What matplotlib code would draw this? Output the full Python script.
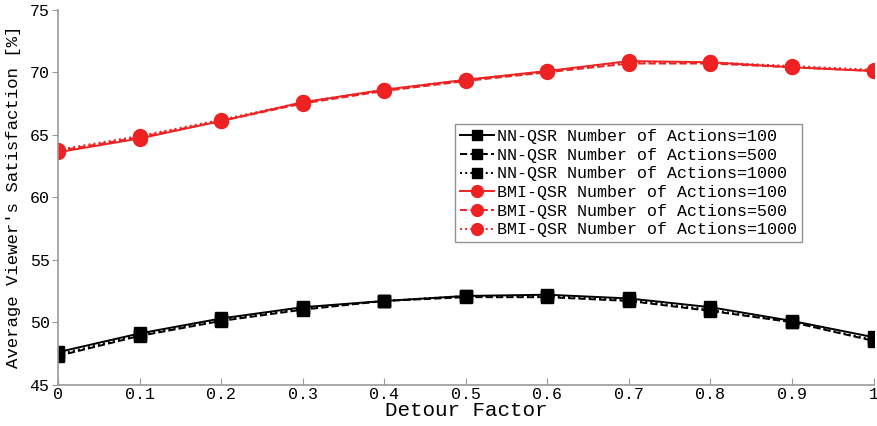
import numpy as np
import matplotlib
matplotlib.use('Agg')
from matplotlib import pyplot as plt

plt.rcParams['font.family'] = ['Liberation Mono', 'DejaVu Sans Mono']

# detour factor
detour = [0, 0.1, 0.2, 0.3, 0.4, 0.5, 0.6, 0.7, 0.8, 0.9, 1.0]

# NN-QSR, number of actions = 100 / 500 / 1000
nn_100 = [47.6, 49.1, 50.3, 51.2, 51.7, 52.1, 52.2, 51.9, 51.2, 50.1, 48.8]
nn_500 = [47.3, 48.9, 50.1, 51.0, 51.7, 52.0, 52.0, 51.7, 50.9, 50.0, 48.5]
nn_1000 = [47.4, 49.0, 50.2, 51.1, 51.7, 52.1, 52.1, 51.8, 51.0, 50.0, 48.6]

# BMI-QSR, number of actions = 100 / 500 / 1000
bmi_100 = [63.6, 64.7, 66.1, 67.6, 68.6, 69.4, 70.1, 70.9, 70.8, 70.4, 70.1]
bmi_500 = [63.7, 64.8, 66.1, 67.5, 68.5, 69.3, 70.0, 70.7, 70.7, 70.4, 70.1]
bmi_1000 = [63.8, 64.9, 66.2, 67.6, 68.6, 69.4, 70.1, 70.8, 70.8, 70.5, 70.2]

labels = ['NN-QSR Number of Actions=100', 'NN-QSR Number of Actions=500',
          'NN-QSR Number of Actions=1000', 'BMI-QSR Number of Actions=100',
          'BMI-QSR Number of Actions=500', 'BMI-QSR Number of Actions=1000']

red = '#ee2222'

fig = plt.figure(figsize=(8.78, 4.26), dpi=100)
ax = fig.add_axes([0.066, 0.097, 0.929, 0.88])

ax.plot(detour, nn_100, '-', color='black', lw=1.4, marker='s', ms=9, label=labels[0])
ax.plot(detour, nn_500, '--', color='black', lw=1.4, marker='s', ms=9, label=labels[1])
ax.plot(detour, nn_1000, ':', color='black', lw=1.4, marker='s', ms=9, label=labels[2])
ax.plot(detour, bmi_100, '-', color=red, lw=1.4, marker='o', ms=10, label=labels[3])
ax.plot(detour, bmi_500, '--', color=red, lw=1.4, marker='o', ms=10, label=labels[4])
ax.plot(detour, bmi_1000, ':', color=red, lw=1.4, marker='o', ms=10, label=labels[5])

ax.set_xlim(0, 1)
ax.set_ylim(45, 75)
ax.set_xticks(detour)
ax.set_xticklabels(['0', '0.1', '0.2', '0.3', '0.4', '0.5', '0.6', '0.7', '0.8', '0.9', '1'])
ax.set_yticks([45, 50, 55, 60, 65, 70, 75])

for s in ['top', 'right']:
    ax.spines[s].set_visible(False)
for s in ['left', 'bottom']:
    ax.spines[s].set_color('#999999')
    ax.spines[s].set_linewidth(1.2)

ax.tick_params(axis='x', direction='in', length=5, color='#999999', labelsize=12, pad=2)
ax.tick_params(axis='y', direction='out', length=4, color='#999999', labelsize=12, pad=2)

ax.set_xlabel('Detour Factor', fontsize=15, labelpad=-1)
ax.set_ylabel("Average Viewer's Satisfaction [%]", fontsize=12.5, labelpad=6)

leg = ax.legend(loc='upper left', bbox_to_anchor=(0.487, 0.695), fontsize=12,
                frameon=True, fancybox=False, handlelength=2.0, handletextpad=0.2,
                borderpad=0.3, labelspacing=0.22, markerscale=0.85, borderaxespad=0)
leg.get_frame().set_edgecolor('#777777')
leg.get_frame().set_linewidth(1.0)

plt.savefig('out.png', dpi=100)
